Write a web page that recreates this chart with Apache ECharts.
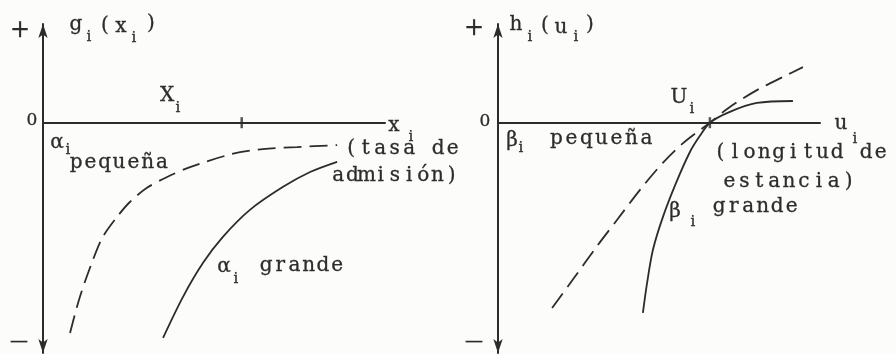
<!DOCTYPE html>
<html>
<head>
<meta charset="utf-8">
<script src="https://cdn.jsdelivr.net/npm/echarts@6/dist/echarts.min.js"></script>
<style>
html, body { margin: 0; background: #fcfcfb; }
#c { width: 896px; height: 354px; }
</style>
</head>
<body>
<div id="c"></div>
<script>
// left panel g_i(x_i): curves (x 0..10, y -7..3)
var alphaSmall = [[0.79, -6.39], [1.08, -5.29], [1.46, -4.17], [1.75, -3.47], [2.16, -2.87], [2.54, -2.41],
	[3.04, -1.98], [3.63, -1.65], [4.3, -1.35], [5.53, -0.95], [6.43, -0.8], [7.43, -0.74], [8.6, -0.68]];
var alphaLarge = [[3.51, -6.54], [4.09, -5.3], [4.68, -4.26], [5.26, -3.47], [6.05, -2.65], [7.02, -1.95],
	[7.81, -1.5], [8.6, -1.19]];
var xTick = [[5.81, 0]];

// right panel h_i(u_i)
var betaSmall = [[1.68, -5.63], [2.33, -4.76], [3.07, -3.76], [3.7, -2.95], [4.41, -2.04], [5.12, -1.22],
	[5.75, -0.62], [6.58, 0], [7.2, 0.48], [8.04, 0.99], [8.85, 1.39], [9.47, 1.69]];
var betaLarge = [[4.5, -5.78], [4.63, -4.87], [4.81, -3.87], [5.12, -2.87], [5.53, -1.83], [5.96, -0.89],
	[6.27, -0.4], [6.58, 0], [7.2, 0.33], [8.04, 0.6], [9.16, 0.66]];
var uTick = [[6.58, 0]];

var xRange = [0, 10];
var yRange = [-7, 3];

var ink = '#2c2c2c';
var face = '"DejaVu Serif", "Liberation Serif", serif';

// one glyph, centred on (x, y)
function c(x, y, ch, size) {
	return {
		type: 'text', x: x, y: y, silent: true,
		style: {
			text: ch, font: size + 'px ' + face, fill: ink, stroke: ink, lineWidth: 0.3,
			align: 'center', verticalAlign: 'middle'
		}
	};
}
// typewriter line: every glyph gets the same advance
function s(x0, y, str, size, adv) {
	var out = [];
	for (var k = 0; k < str.length; k++) {
		if (str[k] != ' ') out.push(c(x0 + adv * (k + 0.5), y, str[k], size));
	}
	return out;
}

function xAx(i) {
	return {
		type: 'value', gridIndex: i, min: xRange[0], max: xRange[1],
		axisLine: { onZero: true, lineStyle: { color: ink, width: 2 } },
		axisTick: { show: false }, axisLabel: { show: false }, splitLine: { show: false }
	};
}
function yAx(i) {
	return {
		type: 'value', gridIndex: i, min: yRange[0], max: yRange[1],
		axisLine: { onZero: true, symbol: ['arrow', 'arrow'], symbolSize: [7, 14], lineStyle: { color: ink, width: 2 } },
		axisTick: { show: false }, axisLabel: { show: false }, splitLine: { show: false }
	};
}
function curve(i, data, dashed) {
	return {
		type: 'line', xAxisIndex: i, yAxisIndex: i, data: data, smooth: 0.3,
		showSymbol: false, silent: true,
		lineStyle: { color: ink, width: 1.8, type: dashed ? [18, 8] : 'solid' }
	};
}
function tick(i, data) {
	return {
		type: 'scatter', xAxisIndex: i, yAxisIndex: i, data: data, silent: true,
		symbol: 'rect', symbolSize: [2.5, 11], itemStyle: { color: ink }
	};
}

var F = 20, f = 15;
var labels = [].concat(
	// left panel
	c(20, 31, '+', 24), c(19, 342, '—', 18), c(32, 121, '0', 17),
	c(76, 25, 'g', F), c(89, 37, 'i', f), c(105, 26, '(', F), c(121, 27, 'x', F), c(134, 38, 'i', f), c(151, 24, ')', F),
	c(167, 96, 'X', F), c(178, 108, 'i', f),
	c(394, 126, 'x', F), c(411, 137, 'i', f),
	c(57, 143, 'α', F), c(68, 150, 'i', f),
	s(69, 163, 'pequeña', F, 14.3),
	s(344, 149, '(tasa de', F, 14.5),
	s(331, 176, 'admisión)', F, 14.2),
	c(224, 267, 'α', F), c(236, 279, 'i', f),
	s(259, 266, 'grande', F, 14.2),
	// right panel
	c(474, 29, '+', 24), c(474, 342, '—', 18), c(485, 122, '0', 17),
	c(516, 25, 'h', F), c(530, 37, 'i', f), c(545, 26, '(', F), c(561, 28, 'u', F), c(576, 37, 'i', f), c(590, 25, ')', F),
	c(679, 98, 'U', F), c(692, 109, 'i', f),
	c(841, 124, 'u', F), c(855, 139, 'i', f),
	c(512, 141, 'β', F), c(521, 148, 'i', f),
	s(549, 139, 'pequeña', F, 15),
	s(713, 153, '(longitud', F, 14.6),
	s(859, 153, 'de', F, 14.5),
	s(722, 182, 'estancia)', F, 14.9),
	c(675, 212, 'β', F), c(693, 222, 'i', f),
	s(712, 207, 'grande', F, 14.5)
);

var chart = echarts.init(document.getElementById('c'));
chart.setOption({
	animation: false,
	backgroundColor: '#fcfcfb',
	grid: [
		{ left: 43, top: 24, width: 342, height: 329 },
		{ left: 498, top: 24, width: 322, height: 329 }
	],
	xAxis: [xAx(0), xAx(1)],
	yAxis: [yAx(0), yAx(1)],
	series: [
		curve(0, alphaSmall, true),
		curve(0, alphaLarge, false),
		tick(0, xTick),
		curve(1, betaSmall, true),
		curve(1, betaLarge, false),
		tick(1, uTick)
	],
	graphic: labels
});
</script>
</body>
</html>
